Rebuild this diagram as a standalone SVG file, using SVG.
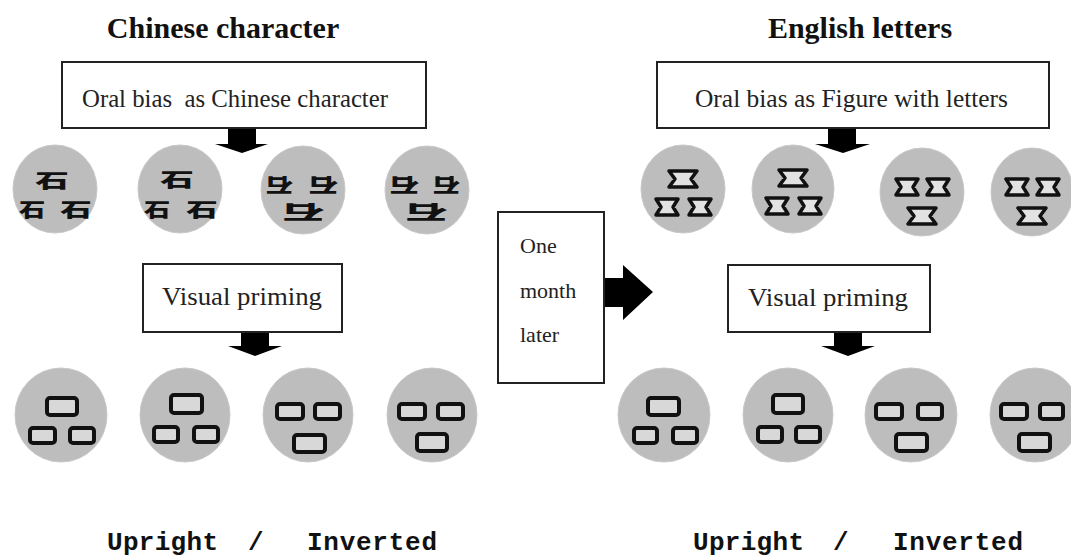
<svg xmlns="http://www.w3.org/2000/svg" width="1071" height="558" viewBox="0 0 1071 558">
<style>
.title{font-family:"Liberation Serif",serif;font-weight:bold;font-size:30px;fill:#111;text-anchor:middle}
.lbl{font-family:"Liberation Serif",serif;font-size:26px;fill:#222}
.small{font-family:"Liberation Serif",serif;font-size:22px;fill:#222}
.foot{font-family:"Liberation Mono",monospace;font-weight:bold;font-size:26px;fill:#111}
.box{fill:#fff;stroke:#222;stroke-width:2}
.oval{fill:#bdbdbd;stroke:#c8c8c8;stroke-width:1}
.ch{font-family:"Noto Sans CJK SC","Noto Sans CJK JP",sans-serif;font-weight:900;font-size:21px;fill:#111;text-anchor:middle;dominant-baseline:central}
.fig{fill:#e2e2e2;stroke:#111;stroke-width:3.5;stroke-linejoin:round}
.rb{fill:#d8d8d8;stroke:#111;stroke-width:4}
.arr{fill:#000}
</style>
<defs>
<path id="xf" d="M-14,-8 L14,-8 L8,0 L14,8 L-14,8 L-8,0 Z" class="fig"/>
<path id="xs" d="M-11,-8 L11,-8 L6,0 L11,8 L-11,8 L-6,0 Z" class="fig"/>
</defs>

<text class="title" x="223" y="38">Chinese character</text>
<text class="title" x="860" y="38">English letters</text>

<g id="connectors">
<path class="arr" d="M228,128 L256,128 L256,144 L268,144 L242,153 L215,144 L228,144 Z"/>
<path class="arr" d="M828,128 L856,128 L856,144 L870,144 L843,153 L815,144 L828,144 Z"/>
<path class="arr" d="M241,332 L269,332 L269,346 L282,346 L255,356 L228,346 L241,346 Z"/>
<path class="arr" d="M834,332 L862,332 L862,346 L875,346 L848,356 L821,346 L834,346 Z"/>
<path class="arr" d="M604,278 L623,278 L623,265 L653,292 L623,320 L623,307 L604,307 Z"/>
</g>

<g id="oral-chinese">
<rect class="box" x="62" y="62" width="364" height="66"/>
<text class="lbl" x="82" y="107" textLength="306" lengthAdjust="spacingAndGlyphs" xml:space="preserve">Oral bias  as Chinese character</text>
</g>
<g id="oral-english">
<rect class="box" x="657" y="62" width="392" height="66"/>
<text class="lbl" x="695" y="107" textLength="313" lengthAdjust="spacingAndGlyphs">Oral bias as Figure with letters</text>
</g>
<g id="visual-chinese">
<rect class="box" x="143" y="264" width="199" height="68"/>
<text class="lbl" x="162" y="305" textLength="160" lengthAdjust="spacingAndGlyphs">Visual priming</text>
</g>
<g id="visual-english">
<rect class="box" x="728" y="265" width="202" height="67"/>
<text class="lbl" x="748" y="306" textLength="160" lengthAdjust="spacingAndGlyphs">Visual priming</text>
</g>
<g id="one-month-later">
<rect class="box" x="498" y="212" width="106" height="171"/>
<text class="small" x="520" y="253">One</text>
<text class="small" x="520" y="298">month</text>
<text class="small" x="520" y="342">later</text>
</g>

<g id="cn-upright-1">
<ellipse class="oval" cx="55" cy="189" rx="42" ry="44"/>
<text class="ch" transform="translate(52,180) scale(1.6,0.9)">石</text>
<text class="ch" transform="translate(32,209) scale(1.25,0.9)">石</text>
<text class="ch" transform="translate(76,209) scale(1.5,0.9)">石</text>
</g>
<g id="cn-upright-2">
<ellipse class="oval" cx="180" cy="189" rx="42" ry="44"/>
<text class="ch" transform="translate(177,179) scale(1.6,0.9)">石</text>
<text class="ch" transform="translate(157,209) scale(1.25,0.9)">石</text>
<text class="ch" transform="translate(202,209) scale(1.5,0.9)">石</text>
</g>
<g id="cn-inverted-1">
<ellipse class="oval" cx="303" cy="190" rx="42" ry="44"/>
<text class="ch" transform="translate(279,186) rotate(180) scale(1.3,0.9)">石</text>
<text class="ch" transform="translate(323,186) rotate(180) scale(1.4,0.9)">石</text>
<text class="ch" transform="translate(303,213) rotate(180) scale(2,0.9)">石</text>
</g>
<g id="cn-inverted-2">
<ellipse class="oval" cx="427" cy="190" rx="42" ry="44"/>
<text class="ch" transform="translate(404,186) rotate(180) scale(1.4,0.9)">石</text>
<text class="ch" transform="translate(446,186) rotate(180) scale(1.3,0.9)">石</text>
<text class="ch" transform="translate(426,213) rotate(180) scale(2,0.9)">石</text>
</g>

<g id="en-upright-1">
<ellipse class="oval" cx="683" cy="189" rx="42" ry="44"/>
<use href="#xf" x="683" y="179"/>
<use href="#xs" x="667" y="207"/>
<use href="#xs" x="700" y="207"/>
</g>
<g id="en-upright-2">
<ellipse class="oval" cx="793" cy="189" rx="41" ry="44"/>
<use href="#xf" x="793" y="178"/>
<use href="#xs" x="777" y="206"/>
<use href="#xs" x="810" y="206"/>
</g>
<g id="en-inverted-1">
<ellipse class="oval" cx="922" cy="192" rx="42" ry="44"/>
<use href="#xs" x="907" y="187"/>
<use href="#xs" x="938" y="187"/>
<use href="#xf" x="922" y="216"/>
</g>
<g id="en-inverted-2">
<ellipse class="oval" cx="1032" cy="192" rx="41" ry="44"/>
<use href="#xs" x="1017" y="187"/>
<use href="#xs" x="1048" y="187"/>
<use href="#xf" x="1032" y="216"/>
</g>

<g id="vis-cn-upright-1">
<ellipse class="oval" cx="61" cy="415" rx="46" ry="47"/>
<rect class="rb" x="47" y="398" width="30" height="17" rx="3"/>
<rect class="rb" x="30" y="428" width="25" height="15" rx="3"/>
<rect class="rb" x="70" y="428" width="24" height="15" rx="3"/>
</g>
<g id="vis-cn-upright-2">
<ellipse class="oval" cx="185" cy="415" rx="45" ry="47"/>
<rect class="rb" x="171" y="395" width="31" height="18" rx="3"/>
<rect class="rb" x="154" y="427" width="24" height="15" rx="3"/>
<rect class="rb" x="194" y="427" width="24" height="15" rx="3"/>
</g>
<g id="vis-cn-inverted-1">
<ellipse class="oval" cx="308" cy="415" rx="45" ry="47"/>
<rect class="rb" x="277" y="404" width="26" height="15" rx="3"/>
<rect class="rb" x="315" y="404" width="25" height="15" rx="3"/>
<rect class="rb" x="294" y="435" width="31" height="17" rx="3"/>
</g>
<g id="vis-cn-inverted-2">
<ellipse class="oval" cx="432" cy="415" rx="45" ry="47"/>
<rect class="rb" x="399" y="404" width="26" height="15" rx="3"/>
<rect class="rb" x="438" y="404" width="25" height="15" rx="3"/>
<rect class="rb" x="417" y="434" width="30" height="17" rx="3"/>
</g>

<g id="vis-en-upright-1">
<ellipse class="oval" cx="664" cy="415" rx="46" ry="47"/>
<rect class="rb" x="648" y="398" width="31" height="17" rx="3"/>
<rect class="rb" x="634" y="428" width="23" height="15" rx="3"/>
<rect class="rb" x="673" y="428" width="24" height="15" rx="3"/>
</g>
<g id="vis-en-upright-2">
<ellipse class="oval" cx="788" cy="415" rx="45" ry="47"/>
<rect class="rb" x="773" y="395" width="30" height="18" rx="3"/>
<rect class="rb" x="758" y="427" width="24" height="15" rx="3"/>
<rect class="rb" x="796" y="427" width="24" height="15" rx="3"/>
</g>
<g id="vis-en-inverted-1">
<ellipse class="oval" cx="911" cy="415" rx="46" ry="47"/>
<rect class="rb" x="876" y="404" width="26" height="15" rx="3"/>
<rect class="rb" x="918" y="404" width="24" height="15" rx="3"/>
<rect class="rb" x="896" y="434" width="31" height="17" rx="3"/>
</g>
<g id="vis-en-inverted-2">
<ellipse class="oval" cx="1035" cy="415" rx="45" ry="47"/>
<rect class="rb" x="1001" y="404" width="26" height="15" rx="3"/>
<rect class="rb" x="1040" y="404" width="23" height="15" rx="3"/>
<rect class="rb" x="1019" y="434" width="31" height="17" rx="3"/>
</g>

<text class="foot" x="107" y="550" textLength="111">Upright</text>
<text class="foot" x="248" y="550">/</text>
<text class="foot" x="307" y="550" textLength="130">Inverted</text>
<text class="foot" x="693" y="550" textLength="111">Upright</text>
<text class="foot" x="833" y="550">/</text>
<text class="foot" x="893" y="550" textLength="130">Inverted</text>
</svg>
